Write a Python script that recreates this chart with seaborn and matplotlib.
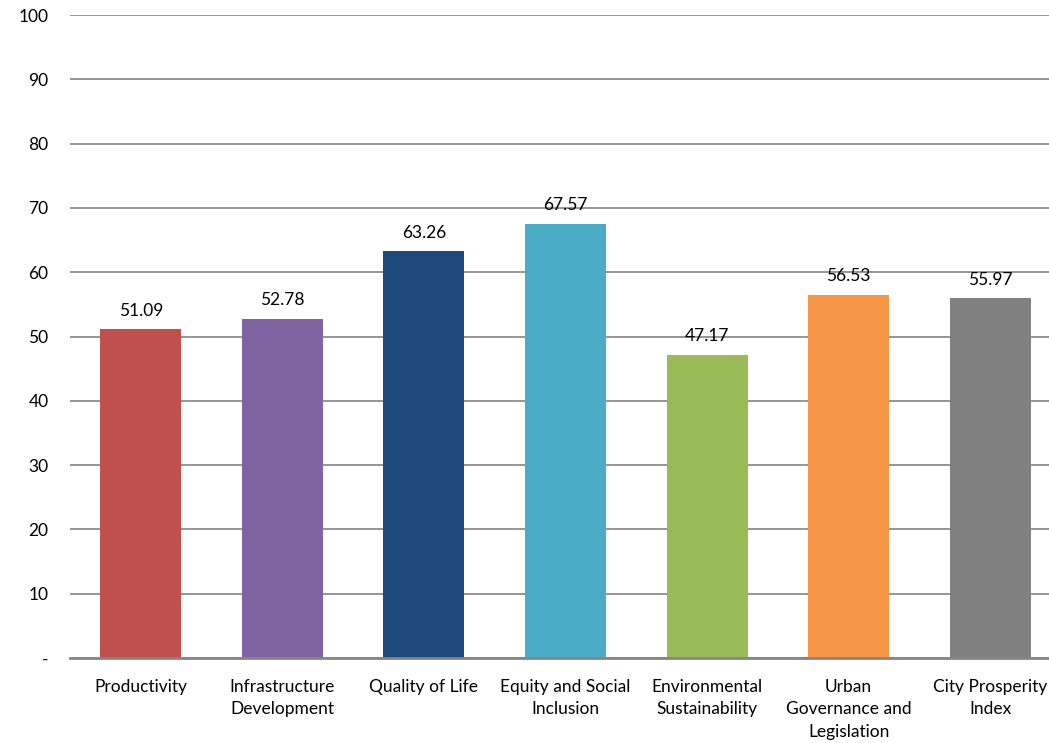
import matplotlib
matplotlib.use("Agg")
import matplotlib.pyplot as plt
import seaborn as sns
import pandas as pd

categories = ["Productivity", "Infrastructure\nDevelopment", "Quality of Life",
              "Equity and Social\nInclusion", "Environmental\nSustainability",
              "Urban\nGovernance and\nLegislation", "City Prosperity\nIndex"]
values = [51.09, 52.78, 63.26, 67.57, 47.17, 56.53, 55.97]
colors = ["#C0504D", "#8064A2", "#1F497D", "#4BACC6", "#9BBB59", "#F79646", "#808080"]
yticks = [0, 10, 20, 30, 40, 50, 60, 70, 80, 90, 100]
ytick_labels = ["-", "10", "20", "30", "40", "50", "60", "70", "80", "90", "100"]

sns.set_theme(style="white")
plt.rcParams['font.family'] = ['Lato', 'DejaVu Sans']

df = pd.DataFrame({"cat": categories, "val": values})

fig = plt.figure(figsize=(10.49, 7.43), dpi=100)
ax = fig.add_axes([70/1049, 1-658/743, 991/1049, (658-15)/743])

sns.barplot(data=df, x="cat", y="val", hue="cat", palette=colors, width=0.572,
            legend=False, ax=ax, saturation=1, zorder=3, linewidth=0)

ax.set_ylim(0, 100)
ax.set_xlim(-0.5, len(categories)-0.5)
ax.set_yticks(yticks)
ax.set_yticklabels(ytick_labels, fontsize=12.5, color="#000000")
ax.tick_params(axis='y', length=0, pad=15.5)
ax.tick_params(axis='x', length=0, pad=15, labelsize=12.5, colors="#000000")
for lbl in ax.get_xticklabels():
    lbl.set_linespacing(1.5)
    lbl.set_verticalalignment('top')
ax.set_xlabel("")
ax.set_ylabel("")
ax.yaxis.grid(True, color="#8C8C8C", linewidth=1.3, zorder=0)
ax.set_axisbelow(True)
for s in ["left", "right", "top"]:
    ax.spines[s].set_visible(False)
ax.spines["bottom"].set_color("#868686")
ax.spines["bottom"].set_linewidth(2)
ax.spines["bottom"].set_zorder(4)

for i, v in enumerate(values):
    ax.text(i, v + 1.6, f"{v:.2f}", ha="center", va="bottom", fontsize=12.5, color="#000000")

fig.savefig("out.png", dpi=100)
